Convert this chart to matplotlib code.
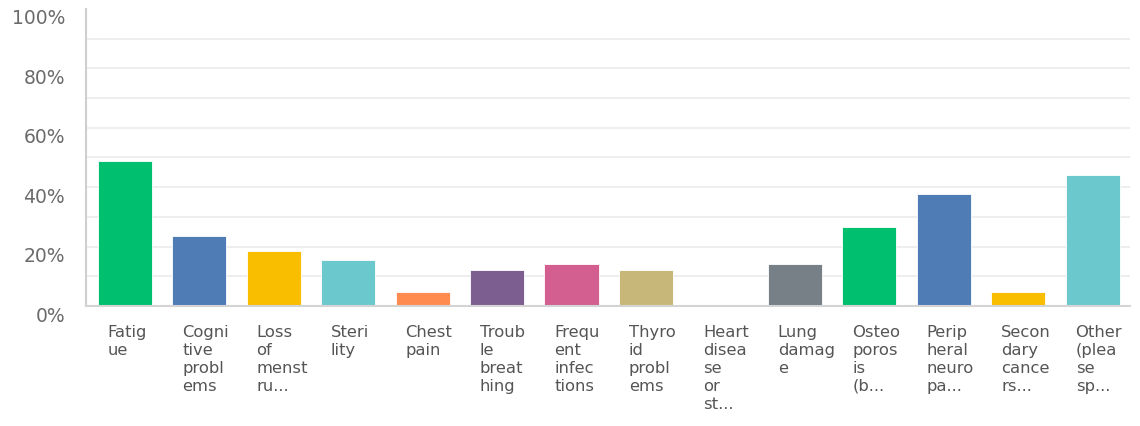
import numpy as np
import matplotlib
matplotlib.use('Agg')
import matplotlib.pyplot as plt
import matplotlib.transforms as mtrans

# Data
labels = ['Fatig\nue', 'Cogni\ntive\nprobl\nems', 'Loss\nof\nmenst\nru...', 'Steri\nlity',
          'Chest\npain', 'Troub\nle\nbreat\nhing', 'Frequ\nent\ninfec\ntions', 'Thyro\nid\nprobl\nems',
          'Heart\ndisea\nse\nor\nst...', 'Lung\ndamag\ne', 'Osteo\nporos\nis\n(b...', 'Perip\nheral\nneuro\npa...',
          'Secon\ndary\ncance\nrs...', 'Other\n(plea\nse\nsp...']
values = [48.7, 23.7, 18.6, 15.6, 4.7, 12.1, 14.1, 12.1, 0.0, 14.0, 26.7, 37.7, 4.6, 44.2]
colors = ['#00bf6f', '#507cb6', '#f9be00', '#6bc8cd', '#ff8b4f', '#7d5e90', '#d25f90',
          '#c7b879', '#9da1a4', '#768086', '#00bf6f', '#507cb6', '#f9be00', '#6bc8cd']
ytick_vals = [0, 20, 40, 60, 80, 100]
ytick_labels = ['0%', '20%', '40%', '60%', '80%', '100%']

fig = plt.figure(figsize=(11.4, 4.27), dpi=100)
ax = fig.add_axes([0.0754, 0.281, 0.9158, 0.696])

x = np.arange(len(values))
ax.set_xlim(-0.52, len(values) - 0.5)
ax.set_ylim(0, 100)

# light gridlines every 10%
for g in range(10, 100, 10):
    ax.axhline(g, color='#ebebeb', lw=1.2, zorder=0)

ax.bar(x, values, width=0.726, color=colors, edgecolor='white', linewidth=0.6, zorder=2)

for side in ['top', 'right']:
    ax.spines[side].set_visible(False)
ax.spines['left'].set_color('#cfcfcf')
ax.spines['left'].set_linewidth(1.5)
ax.spines['bottom'].set_color('#d4d4d4')
ax.spines['bottom'].set_linewidth(1.5)

ax.set_xticks([])
ax.set_yticks(ytick_vals)
ax.set_yticklabels(ytick_labels, fontsize=13.5, color='#6b6b6b')
ax.tick_params(axis='y', length=0, pad=15)
shift = mtrans.ScaledTranslation(0, -7 / 100, fig.dpi_scale_trans)
for lbl in ax.get_yticklabels():
    lbl.set_transform(lbl.get_transform() + shift)

# wrapped category labels below the axis
for i, lab in enumerate(labels):
    ax.annotate(lab, xy=(i - 0.23, 0), xycoords=('data', 'axes fraction'),
                xytext=(0, -18), textcoords='offset pixels',
                ha='left', va='top', fontsize=11.8, color='#555555',
                linespacing=1.24, annotation_clip=False)

fig.savefig('out.png', dpi=100, facecolor='white')
